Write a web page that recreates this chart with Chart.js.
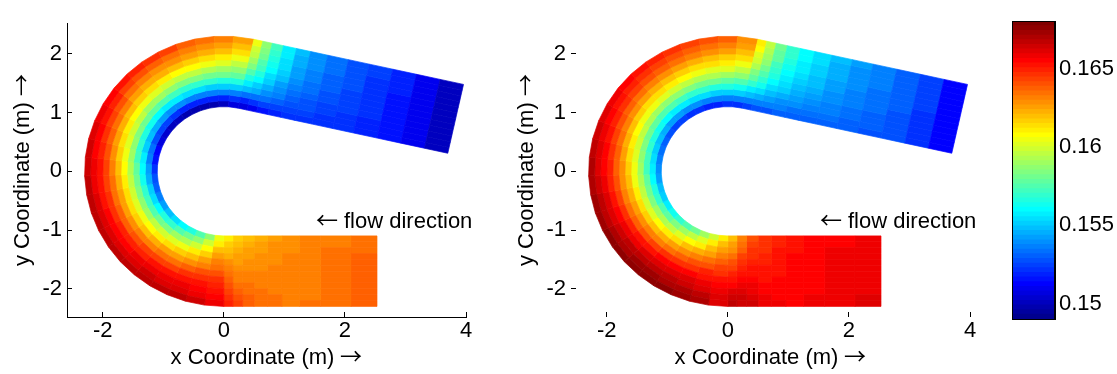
<!DOCTYPE html>
<html>
<head>
<meta charset="utf-8">
<script src="https://cdn.jsdelivr.net/npm/chart.js@4/dist/chart.umd.min.js"></script>
<style>
  /* thin arrows come from a CJK face, letters and digits from Liberation Sans */
  @font-face {
    font-family: "ArrowGlyphs";
    src: local("Noto Sans CJK SC Regular"), local("NotoSansCJKsc-Regular"), local("Noto Sans CJK SC"), local("DejaVu Sans");
    unicode-range: U+2190-2193;
  }
  html, body { margin: 0; padding: 0; background: #fff; }
  #wrap { position: relative; width: 1117px; height: 374px; overflow: hidden; background: #fff; }
  #wrap canvas { position: absolute; top: 0; }
</style>
</head>
<body>
<div id="wrap">
  <canvas id="left" width="500" height="374" style="left:0px"></canvas>
  <canvas id="right" width="500" height="374" style="left:504px"></canvas>
  <canvas id="cbar" width="127" height="374" style="left:990px"></canvas>
</div>
<script>
// ---- channel mesh: lower straight reach, U-bend, upper straight reach ----
const R_IN = 1.1, R_OUT = 2.3;
const LOWER_X = [2.53, 2.1, 1.6, 1.25, 0.96, 0.72, 0.5, 0.31, 0.15, 0];
const BEND_DEG = [270, 262, 254, 246, 238, 230, 222, 214, 206, 198, 190, 182, 174, 166, 158, 150, 142, 134, 126, 118, 110, 102, 94, 86, 77.5];
const UPPER_D = [0, 0.15, 0.31, 0.5, 0.72, 0.96, 1.25, 1.6, 1.95, 2.35, 2.75, 3.15, 3.545];

// ---- axes ----
const X_MIN = -2.59, X_MAX = 4.0, Y_MIN = -2.48, Y_MAX = 2.52;
const X_TICKS = [-2, 0, 2, 4];
const Y_TICKS = [-2, -1, 0, 1, 2];
const C_MIN = 0.14901, C_MAX = 0.16807;
const CBAR_TICKS = [0.15, 0.155, 0.16, 0.165];
const FLOW_AT = [1.52, -0.87];

// ---- field values, rows = cells along the channel, columns = inner bank -> outer bank ----
const LEFT_LOWER = [
  [0.1636,0.1636,0.1636,0.1637,0.1637,0.1637,0.1637,0.1637,0.1637,0.1638,0.1638,0.1638],
  [0.1633,0.1633,0.1634,0.1634,0.1634,0.1634,0.1634,0.1635,0.1635,0.1635,0.1635,0.1635],
  [0.1631,0.1631,0.1632,0.1632,0.1632,0.1632,0.1633,0.1633,0.1633,0.1633,0.1633,0.1634],
  [0.1629,0.1630,0.1630,0.1631,0.1631,0.1631,0.1632,0.1632,0.1632,0.1633,0.1633,0.1633],
  [0.1627,0.1628,0.1629,0.1629,0.1630,0.1631,0.1631,0.1632,0.1632,0.1633,0.1634,0.1634],
  [0.1624,0.1625,0.1627,0.1628,0.1629,0.1630,0.1631,0.1632,0.1633,0.1634,0.1635,0.1636],
  [0.1621,0.1623,0.1625,0.1627,0.1628,0.1630,0.1631,0.1633,0.1634,0.1636,0.1637,0.1639],
  [0.1617,0.1620,0.1622,0.1625,0.1627,0.1629,0.1631,0.1633,0.1636,0.1638,0.1640,0.1643],
  [0.1612,0.1616,0.1620,0.1624,0.1628,0.1631,0.1634,0.1638,0.1641,0.1644,0.1647,0.1650]
];
const LEFT_BEND = [
  [0.1605,0.1612,0.1619,0.1625,0.1631,0.1636,0.1641,0.1645,0.1649,0.1652,0.1654,0.1657],
  [0.1588,0.1599,0.1608,0.1617,0.1626,0.1633,0.1640,0.1646,0.1651,0.1656,0.1659,0.1663],
  [0.1575,0.1588,0.1600,0.1611,0.1621,0.1630,0.1638,0.1645,0.1651,0.1657,0.1662,0.1666],
  [0.1567,0.1581,0.1594,0.1606,0.1617,0.1627,0.1636,0.1644,0.1651,0.1657,0.1662,0.1667],
  [0.1560,0.1575,0.1589,0.1602,0.1614,0.1625,0.1635,0.1643,0.1651,0.1657,0.1663,0.1668],
  [0.1554,0.1570,0.1585,0.1599,0.1611,0.1622,0.1633,0.1642,0.1650,0.1657,0.1662,0.1668],
  [0.1548,0.1565,0.1580,0.1595,0.1608,0.1620,0.1631,0.1640,0.1649,0.1656,0.1662,0.1668],
  [0.1542,0.1560,0.1576,0.1591,0.1605,0.1618,0.1629,0.1639,0.1648,0.1655,0.1662,0.1668],
  [0.1536,0.1554,0.1571,0.1587,0.1602,0.1615,0.1626,0.1637,0.1646,0.1654,0.1661,0.1667],
  [0.1531,0.1550,0.1568,0.1584,0.1599,0.1613,0.1625,0.1636,0.1645,0.1653,0.1660,0.1667],
  [0.1527,0.1546,0.1564,0.1581,0.1596,0.1610,0.1623,0.1634,0.1644,0.1652,0.1659,0.1666],
  [0.1522,0.1542,0.1561,0.1578,0.1593,0.1608,0.1621,0.1632,0.1642,0.1651,0.1658,0.1665],
  [0.1516,0.1537,0.1556,0.1573,0.1590,0.1604,0.1617,0.1629,0.1640,0.1648,0.1656,0.1663],
  [0.1511,0.1532,0.1552,0.1570,0.1586,0.1601,0.1615,0.1627,0.1637,0.1646,0.1654,0.1661],
  [0.1507,0.1528,0.1548,0.1566,0.1583,0.1598,0.1611,0.1623,0.1634,0.1643,0.1651,0.1658],
  [0.1504,0.1525,0.1545,0.1563,0.1580,0.1595,0.1608,0.1620,0.1631,0.1640,0.1648,0.1655],
  [0.1502,0.1523,0.1542,0.1560,0.1577,0.1591,0.1605,0.1617,0.1627,0.1636,0.1644,0.1651],
  [0.1500,0.1521,0.1540,0.1558,0.1574,0.1589,0.1602,0.1614,0.1624,0.1633,0.1641,0.1648],
  [0.1499,0.1519,0.1538,0.1556,0.1572,0.1587,0.1600,0.1611,0.1622,0.1630,0.1638,0.1645],
  [0.1498,0.1518,0.1537,0.1554,0.1570,0.1584,0.1597,0.1609,0.1619,0.1628,0.1635,0.1642],
  [0.1498,0.1518,0.1536,0.1553,0.1569,0.1583,0.1595,0.1607,0.1616,0.1625,0.1632,0.1639],
  [0.1499,0.1518,0.1536,0.1552,0.1568,0.1581,0.1594,0.1605,0.1614,0.1622,0.1629,0.1636],
  [0.1501,0.1519,0.1536,0.1552,0.1567,0.1580,0.1591,0.1602,0.1611,0.1619,0.1626,0.1632],
  [0.1505,0.1522,0.1537,0.1552,0.1565,0.1577,0.1588,0.1597,0.1606,0.1613,0.1619,0.1625]
];
const LEFT_UPPER = [
  [0.1505,0.1518,0.1534,0.1547,0.1558,0.1567,0.1576,0.1583,0.1590,0.1596,0.1600,0.1605],
  [0.1510,0.1521,0.1534,0.1544,0.1552,0.1559,0.1565,0.1571,0.1576,0.1581,0.1584,0.1588],
  [0.1514,0.1523,0.1532,0.1539,0.1545,0.1550,0.1555,0.1560,0.1563,0.1567,0.1569,0.1572],
  [0.1518,0.1524,0.1530,0.1535,0.1539,0.1543,0.1547,0.1550,0.1553,0.1555,0.1557,0.1558],
  [0.1520,0.1524,0.1528,0.1531,0.1534,0.1537,0.1539,0.1541,0.1543,0.1545,0.1546,0.1547],
  [0.1521,0.1523,0.1526,0.1528,0.1530,0.1532,0.1534,0.1535,0.1537,0.1538,0.1539,0.1540],
  [0.1521,0.1522,0.1524,0.1525,0.1527,0.1528,0.1529,0.1530,0.1531,0.1532,0.1532,0.1533],
  [0.1520,0.1521,0.1522,0.1523,0.1524,0.1525,0.1525,0.1526,0.1527,0.1527,0.1528,0.1528],
  [0.1518,0.1518,0.1519,0.1520,0.1520,0.1521,0.1521,0.1522,0.1522,0.1522,0.1523,0.1523],
  [0.1514,0.1514,0.1515,0.1515,0.1516,0.1516,0.1516,0.1516,0.1517,0.1517,0.1517,0.1517],
  [0.1508,0.1508,0.1509,0.1509,0.1509,0.1509,0.1510,0.1510,0.1510,0.1510,0.1510,0.1510],
  [0.1500,0.1500,0.1500,0.1501,0.1501,0.1501,0.1501,0.1502,0.1502,0.1502,0.1502,0.1502]
];

const RIGHT_LOWER = [
  [0.1658,0.1658,0.1658,0.1659,0.1659,0.1659,0.1659,0.1659,0.1659,0.1659,0.1660,0.1660],
  [0.1656,0.1656,0.1657,0.1657,0.1657,0.1657,0.1657,0.1657,0.1658,0.1658,0.1658,0.1658],
  [0.1655,0.1655,0.1655,0.1655,0.1655,0.1656,0.1656,0.1656,0.1656,0.1656,0.1657,0.1657],
  [0.1652,0.1653,0.1653,0.1654,0.1654,0.1654,0.1655,0.1655,0.1655,0.1656,0.1656,0.1656],
  [0.1649,0.1650,0.1651,0.1651,0.1652,0.1653,0.1653,0.1654,0.1655,0.1655,0.1656,0.1657],
  [0.1645,0.1646,0.1647,0.1648,0.1650,0.1651,0.1652,0.1653,0.1655,0.1656,0.1657,0.1658],
  [0.1640,0.1643,0.1645,0.1647,0.1649,0.1651,0.1653,0.1655,0.1657,0.1659,0.1661,0.1663],
  [0.1632,0.1636,0.1639,0.1642,0.1645,0.1648,0.1651,0.1654,0.1657,0.1660,0.1663,0.1665],
  [0.1620,0.1625,0.1630,0.1635,0.1640,0.1644,0.1648,0.1652,0.1656,0.1660,0.1664,0.1667]
];
const RIGHT_BEND = [
  [0.1612,0.1619,0.1626,0.1632,0.1637,0.1642,0.1647,0.1651,0.1654,0.1657,0.1660,0.1662],
  [0.1600,0.1610,0.1619,0.1627,0.1635,0.1641,0.1648,0.1653,0.1658,0.1662,0.1666,0.1669],
  [0.1590,0.1602,0.1612,0.1622,0.1632,0.1640,0.1647,0.1654,0.1660,0.1665,0.1669,0.1673],
  [0.1582,0.1595,0.1607,0.1619,0.1629,0.1638,0.1647,0.1654,0.1661,0.1667,0.1671,0.1676],
  [0.1575,0.1589,0.1603,0.1615,0.1626,0.1636,0.1645,0.1654,0.1661,0.1667,0.1672,0.1677],
  [0.1568,0.1583,0.1597,0.1611,0.1623,0.1633,0.1643,0.1652,0.1660,0.1666,0.1672,0.1677],
  [0.1562,0.1578,0.1593,0.1607,0.1620,0.1631,0.1641,0.1651,0.1659,0.1666,0.1671,0.1677],
  [0.1557,0.1574,0.1589,0.1603,0.1617,0.1628,0.1639,0.1649,0.1657,0.1664,0.1670,0.1676],
  [0.1552,0.1569,0.1585,0.1600,0.1613,0.1625,0.1636,0.1646,0.1655,0.1662,0.1668,0.1674],
  [0.1547,0.1565,0.1581,0.1596,0.1610,0.1622,0.1633,0.1643,0.1652,0.1660,0.1666,0.1672],
  [0.1542,0.1560,0.1577,0.1592,0.1606,0.1619,0.1630,0.1641,0.1650,0.1657,0.1664,0.1670],
  [0.1538,0.1556,0.1573,0.1589,0.1604,0.1617,0.1628,0.1639,0.1648,0.1656,0.1662,0.1669],
  [0.1535,0.1554,0.1571,0.1587,0.1601,0.1614,0.1626,0.1637,0.1646,0.1654,0.1660,0.1667],
  [0.1532,0.1551,0.1568,0.1584,0.1599,0.1612,0.1624,0.1634,0.1644,0.1652,0.1658,0.1665],
  [0.1529,0.1548,0.1565,0.1581,0.1596,0.1609,0.1621,0.1631,0.1641,0.1649,0.1655,0.1662],
  [0.1527,0.1545,0.1563,0.1578,0.1593,0.1606,0.1618,0.1629,0.1638,0.1646,0.1652,0.1659],
  [0.1525,0.1543,0.1560,0.1576,0.1591,0.1604,0.1615,0.1626,0.1635,0.1643,0.1649,0.1656],
  [0.1523,0.1541,0.1558,0.1574,0.1588,0.1601,0.1613,0.1623,0.1632,0.1640,0.1647,0.1653],
  [0.1521,0.1539,0.1556,0.1571,0.1586,0.1598,0.1610,0.1620,0.1629,0.1637,0.1644,0.1650],
  [0.1520,0.1538,0.1554,0.1570,0.1584,0.1596,0.1608,0.1618,0.1627,0.1634,0.1641,0.1647],
  [0.1519,0.1537,0.1553,0.1568,0.1582,0.1594,0.1605,0.1615,0.1624,0.1632,0.1638,0.1644],
  [0.1519,0.1536,0.1552,0.1567,0.1580,0.1592,0.1603,0.1613,0.1621,0.1629,0.1635,0.1641],
  [0.1520,0.1536,0.1552,0.1566,0.1579,0.1590,0.1601,0.1610,0.1618,0.1625,0.1631,0.1637],
  [0.1522,0.1537,0.1551,0.1564,0.1576,0.1587,0.1597,0.1605,0.1613,0.1619,0.1625,0.1630]
];
const RIGHT_UPPER = [
  [0.1524,0.1536,0.1548,0.1558,0.1568,0.1577,0.1585,0.1592,0.1598,0.1603,0.1608,0.1612],
  [0.1526,0.1536,0.1545,0.1554,0.1562,0.1569,0.1575,0.1581,0.1586,0.1590,0.1594,0.1597],
  [0.1528,0.1536,0.1543,0.1549,0.1555,0.1560,0.1565,0.1570,0.1573,0.1577,0.1579,0.1582],
  [0.1529,0.1535,0.1540,0.1545,0.1550,0.1554,0.1557,0.1561,0.1563,0.1566,0.1568,0.1570],
  [0.1530,0.1534,0.1538,0.1542,0.1546,0.1549,0.1551,0.1554,0.1556,0.1558,0.1560,0.1561],
  [0.1530,0.1533,0.1537,0.1539,0.1542,0.1544,0.1547,0.1549,0.1550,0.1552,0.1553,0.1554],
  [0.1530,0.1532,0.1535,0.1537,0.1539,0.1540,0.1542,0.1543,0.1544,0.1545,0.1546,0.1547],
  [0.1529,0.1531,0.1532,0.1534,0.1535,0.1536,0.1537,0.1538,0.1539,0.1540,0.1540,0.1541],
  [0.1528,0.1529,0.1530,0.1531,0.1532,0.1533,0.1534,0.1534,0.1535,0.1535,0.1536,0.1536],
  [0.1526,0.1527,0.1527,0.1528,0.1528,0.1529,0.1529,0.1529,0.1530,0.1530,0.1530,0.1530],
  [0.1521,0.1521,0.1522,0.1522,0.1522,0.1522,0.1523,0.1523,0.1523,0.1523,0.1523,0.1523],
  [0.1511,0.1511,0.1512,0.1512,0.1512,0.1512,0.1512,0.1513,0.1513,0.1513,0.1513,0.1513]
];

const FIELDS = {
  left:  { lower: LEFT_LOWER,  bend: LEFT_BEND,  upper: LEFT_UPPER,  frame: true },
  right: { lower: RIGHT_LOWER, bend: RIGHT_BEND, upper: RIGHT_UPPER, frame: false }
};

const FONT = { family: 'ArrowGlyphs, "Liberation Sans", Arial, Helvetica, sans-serif', size: 22 };

// MATLAB-style jet colormap with 64 entries
function jet(n) {
  const m = Math.ceil(n / 4);
  const u = [];
  for (let i = 1; i <= m; i++) u.push(i / m);
  for (let i = 0; i < m - 1; i++) u.push(1);
  for (let i = m; i >= 1; i--) u.push(i / m);
  const map = Array.from({ length: n }, () => [0, 0, 0]);
  const g0 = Math.ceil(m / 2) - (n % 4 === 1 ? 1 : 0);
  u.forEach((val, i) => {
    const g = g0 + i + 1, r = g + m, b = g - m;
    if (g >= 1 && g <= n) map[g - 1][1] = val;
    if (r >= 1 && r <= n) map[r - 1][0] = val;
    if (b >= 1 && b <= n) map[b - 1][2] = val;
  });
  return map.map(c => `rgb(${Math.round(c[0] * 255)},${Math.round(c[1] * 255)},${Math.round(c[2] * 255)})`);
}
const JET = jet(64);
function colorOf(v) {
  let k = Math.floor((v - C_MIN) / (C_MAX - C_MIN) * JET.length);
  k = Math.max(0, Math.min(JET.length - 1, k));
  return JET[k];
}

// cross-sections of each reach: inner bank point and outer bank point
function sectionsOf() {
  const lower = LOWER_X.map(x => ({ inner: [x, -R_IN], outer: [x, -R_OUT] }));
  const bend = BEND_DEG.map(d => {
    const a = d * Math.PI / 180, c = Math.cos(a), s = Math.sin(a);
    return { inner: [R_IN * c, R_IN * s], outer: [R_OUT * c, R_OUT * s] };
  });
  const aEnd = BEND_DEG[BEND_DEG.length - 1] * Math.PI / 180;
  const dir = [Math.sin(aEnd), -Math.cos(aEnd)];
  const startIn = [R_IN * Math.cos(aEnd), R_IN * Math.sin(aEnd)];
  const startOut = [R_OUT * Math.cos(aEnd), R_OUT * Math.sin(aEnd)];
  const upper = UPPER_D.map(d => ({
    inner: [startIn[0] + d * dir[0], startIn[1] + d * dir[1]],
    outer: [startOut[0] + d * dir[0], startOut[1] + d * dir[1]]
  }));
  return { lower, bend, upper };
}
const SECTIONS = sectionsOf();
const along = (s, f) => [s.inner[0] + (s.outer[0] - s.inner[0]) * f, s.inner[1] + (s.outer[1] - s.inner[1]) * f];

const channelPlugin = {
  id: 'channelField',
  beforeDatasetsDraw(chart) {
    const field = FIELDS[chart.canvas.id];
    const xs = chart.scales.x, ys = chart.scales.y, ctx = chart.ctx;
    const toPx = p => [xs.getPixelForValue(p[0]), ys.getPixelForValue(p[1])];
    ctx.save();
    ctx.lineWidth = 0.7;
    ctx.lineJoin = 'round';
    ['lower', 'bend', 'upper'].forEach(part => {
      const secs = SECTIONS[part], rows = field[part];
      rows.forEach((row, i) => {
        const a = secs[i], b = secs[i + 1];
        row.forEach((v, j) => {
          const f0 = j / row.length, f1 = (j + 1) / row.length;
          const q = [along(a, f0), along(a, f1), along(b, f1), along(b, f0)].map(toPx);
          const col = colorOf(v);
          ctx.fillStyle = col;
          ctx.strokeStyle = col;
          ctx.beginPath();
          ctx.moveTo(q[0][0], q[0][1]);
          for (let k = 1; k < 4; k++) ctx.lineTo(q[k][0], q[k][1]);
          ctx.closePath();
          ctx.fill();
          ctx.stroke();
        });
      });
    });
    ctx.restore();
  },
  afterDatasetsDraw(chart) {
    const ctx = chart.ctx;
    const x = chart.scales.x.getPixelForValue(FLOW_AT[0]);
    const y = chart.scales.y.getPixelForValue(FLOW_AT[1]);
    ctx.save();
    ctx.font = `${FONT.size}px ${FONT.family}`;
    ctx.fillStyle = '#000';
    ctx.textAlign = 'left';
    ctx.textBaseline = 'middle';
    ctx.fillText('\u2190 flow direction', x, y);
    ctx.restore();
  }
};

function panel(id) {
  const frame = FIELDS[id].frame;
  const grid = { drawOnChartArea: false, drawTicks: true, tickLength: -5, tickColor: '#000', tickWidth: 1, color: '#000' };
  return new Chart(document.getElementById(id), {
    type: 'scatter',
    data: { datasets: [{ data: [], pointRadius: 0 }] },
    options: {
      responsive: false, animation: false, events: [],
      layout: { padding: { left: 0, top: 12, right: 34, bottom: 0 } },
      plugins: { legend: { display: false }, tooltip: { enabled: false } },
      scales: {
        x: {
          type: 'linear', position: 'bottom', min: X_MIN, max: X_MAX,
          afterBuildTicks: s => { s.ticks = X_TICKS.map(v => ({ value: v })); },
          afterFit: s => { s.height = 57; },
          ticks: { font: FONT, color: '#000', padding: 6, maxRotation: 0, autoSkip: false, callback: v => String(v) },
          grid: grid,
          border: { display: frame, color: '#000', width: 1 },
          title: { display: true, text: 'x Coordinate (m) \u2192', font: FONT, color: '#000', padding: { top: 0, bottom: 3 } }
        },
        y: {
          type: 'linear', position: 'left', min: Y_MIN, max: Y_MAX,
          afterBuildTicks: s => { s.ticks = Y_TICKS.map(v => ({ value: v })); },
          afterFit: s => { s.width = 67; },
          ticks: { font: FONT, color: '#000', padding: 10, autoSkip: false, callback: v => String(v) },
          grid: grid,
          border: { display: frame, color: '#000', width: 1 },
          title: { display: true, text: 'y Coordinate (m) \u2192', font: FONT, color: '#000', padding: { top: 10, bottom: 0 } }
        }
      }
    },
    plugins: [channelPlugin]
  });
}

// colour bar: one floating bar per colormap entry
const barFrame = {
  id: 'barFrame',
  afterDraw(chart) {
    const { left, right, top, bottom } = chart.chartArea;
    const ctx = chart.ctx;
    ctx.save();
    ctx.strokeStyle = '#000';
    ctx.lineWidth = 1;
    ctx.strokeRect(Math.round(left) + 0.5, Math.round(top) + 0.5, Math.round(right - left) - 1, Math.round(bottom - top));
    ctx.restore();
  }
};

function colorBar() {
  const step = (C_MAX - C_MIN) / JET.length;
  const cbGrid = { drawOnChartArea: false, drawTicks: true, tickLength: -4, tickColor: '#000', color: '#000' };
  return new Chart(document.getElementById('cbar'), {
    type: 'bar',
    data: {
      labels: [''],
      datasets: JET.map((c, i) => ({
        data: [[C_MIN + i * step, C_MIN + (i + 1) * step]],
        backgroundColor: c, borderWidth: 0, grouped: false,
        barPercentage: 1, categoryPercentage: 1, inflateAmount: 0.5
      }))
    },
    options: {
      responsive: false, animation: false, events: [],
      layout: { padding: { left: 0, right: 0, top: 12, bottom: 55 } },
      plugins: { legend: { display: false }, tooltip: { enabled: false } },
      scales: {
        x: { display: false },
        y: {
          type: 'linear', position: 'left', min: C_MIN, max: C_MAX,
          afterBuildTicks: s => { s.ticks = CBAR_TICKS.map(v => ({ value: v })); },
          afterFit: s => { s.width = 22; },
          ticks: { display: false },
          grid: cbGrid,
          border: { display: true, color: '#000', width: 1 }
        },
        y2: {
          type: 'linear', position: 'right', min: C_MIN, max: C_MAX,
          afterBuildTicks: s => { s.ticks = CBAR_TICKS.map(v => ({ value: v })); },
          afterFit: s => { s.width = 62; },
          ticks: { font: FONT, color: '#000', padding: 8, autoSkip: false, callback: v => String(v) },
          grid: cbGrid,
          border: { display: true, color: '#000', width: 1 }
        }
      }
    },
    plugins: [barFrame]
  });
}

function build() {
  panel('left');
  panel('right');
  colorBar();
}

const fontReady = (document.fonts && document.fonts.load)
  ? Promise.all([
      document.fonts.load('22px ArrowGlyphs', '\u2190\u2192'),
      document.fonts.load('22px "Liberation Sans"', 'x0')
    ]).catch(() => null)
  : Promise.resolve();
fontReady.then(build, build);
</script>
</body>
</html>
